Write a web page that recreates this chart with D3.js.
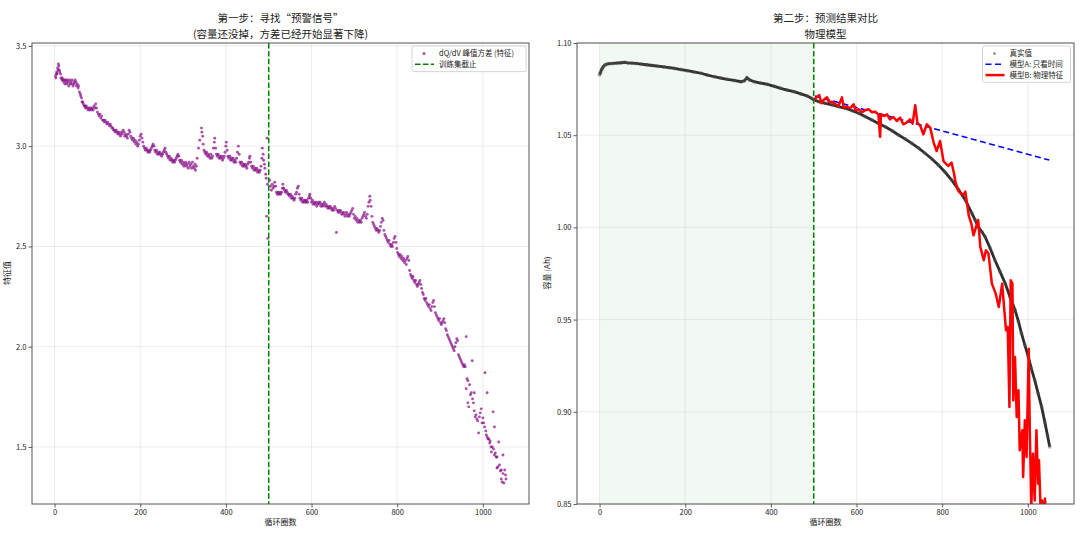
<!DOCTYPE html>
<html>
<head>
<meta charset="utf-8">
<script src="https://cdn.jsdelivr.net/npm/d3@7"></script>
<style>
  body { margin: 0; background: #fff; }
  svg { display: block; font-family: 'Noto Sans CJK SC', 'Noto Sans', sans-serif; }
</style>
</head>
<body>
<div id="chart"></div>
<script>
// --- data ---
var cutoffCycle = 500;
var xTicks = [0, 200, 400, 600, 800, 1000];
var featureTicks = [1.5, 2.0, 2.5, 3.0, 3.5];
var capacityTicks = [0.85, 0.90, 0.95, 1.00, 1.05, 1.10];

// [cycle, dQ/dV peak variance]
var featurePoints = [
  [2,3.35],[3,3.34],[4,3.36],[5,3.37],[6,3.36],[7,3.39],[8,3.38],[9,3.41],[10,3.40],[11,3.38],[12,3.37],[14,3.36],
  [15,3.34],[17,3.33],[18,3.34],[20,3.33],[21,3.32],[23,3.33],[24,3.31],[26,3.33],[27,3.32],[29,3.31],[30,3.33],
  [32,3.32],[33,3.30],[35,3.33],[36,3.31],[38,3.32],[40,3.31],[41,3.33],[43,3.30],[45,3.32],[46,3.31],[48,3.33],
  [50,3.32],[51,3.30],[53,3.31],[55,3.29],[56,3.30],[58,3.27],
  [60,3.26],[61,3.25],[63,3.24],[64,3.22],[66,3.22],[67,3.21],[69,3.20],[71,3.20],[72,3.19],[74,3.20],[76,3.19],
  [78,3.18],[80,3.19],[82,3.18],[84,3.19],[86,3.18],[88,3.19],[90,3.18],[92,3.20],[94,3.19],[96,3.21],[98,3.19],[100,3.17],
  [102,3.16],[104,3.15],[106,3.16],[108,3.14],[110,3.15],[112,3.13],[114,3.13],[116,3.12],[118,3.13],[120,3.12],
  [122,3.11],[124,3.12],[126,3.11],[128,3.10],[130,3.11],[132,3.10],[134,3.09],
  [136,3.09],[138,3.08],[140,3.08],[142,3.07],[144,3.08],[146,3.07],[148,3.06],[150,3.07],[152,3.06],[154,3.05],
  [156,3.07],[158,3.06],[160,3.08],[162,3.07],[164,3.05],[166,3.06],[168,3.05],[170,3.04],[172,3.06],[174,3.08],
  [176,3.07],[178,3.05],
  [180,3.04],[182,3.03],[184,3.04],[186,3.02],[188,3.03],[190,3.01],[192,3.02],[194,3.00],[196,3.01],[198,3.03],
  [200,3.05],[202,3.06],[204,3.04],[206,3.02],
  [208,3.00],[210,2.99],[212,2.98],[214,2.99],[216,2.98],[218,2.97],[220,2.98],[222,2.97],[224,2.98],[226,2.99],
  [228,3.00],[230,3.01],[232,3.00],[234,2.98],
  [236,2.97],[238,2.98],[240,2.96],[242,2.97],[244,2.96],[246,2.97],[248,2.96],[250,2.95],[252,2.96],[254,2.97],
  [256,2.98],[258,2.99],[260,2.97],[262,2.96],[264,2.95],[266,2.94],[268,2.95],[270,2.93],[272,2.94],[274,2.93],
  [276,2.92],[278,2.93],[280,2.92],[282,2.93],[284,2.94],[286,2.95],[288,2.96],[290,2.95],[292,2.93],[294,2.92],
  [296,2.93],[298,2.91],[300,2.92],
  [302,2.90],[304,2.91],[306,2.92],[308,2.90],[310,2.91],[312,2.89],[314,2.92],[316,2.90],[318,2.91],[320,2.89],
  [322,2.92],[324,2.90],[326,2.89],[328,2.91],[329,2.88],[331,2.90],
  [333,2.94],[336,2.99],[339,3.03],[343,3.09],[344,3.07],[346,3.05],[347,3.01],[349,2.98],[351,2.97],[353,2.96],
  [355,2.97],[357,2.95],[359,2.96],[361,2.95],[363,2.94],[365,2.96],[367,2.94],[369,2.95],
  [371,2.99],[373,3.02],[374,3.04],[376,2.99],[378,2.96],[380,2.95],[382,2.96],[384,2.94],[386,2.95],[388,2.94],
  [390,2.95],[392,2.93],[394,2.94],[396,2.95],[398,2.97],[400,3.00],[401,3.02],
  [403,2.98],[405,2.95],[407,2.94],[409,2.95],[411,2.93],[413,2.94],[415,2.93],[417,2.94],[419,2.92],[421,2.93],
  [423,2.92],[425,2.94],[427,2.97],[429,3.00],
  [431,2.96],[433,2.92],[435,2.91],[437,2.92],[439,2.90],[441,2.91],[443,2.90],[445,2.91],[447,2.90],[449,2.89],
  [451,2.91],[453,2.92],[455,2.94],[456,2.95],
  [458,2.92],[460,2.90],[462,2.89],[464,2.90],[466,2.88],[468,2.89],[470,2.88],[472,2.89],[474,2.87],[476,2.88],
  [478,2.87],[480,2.88],[482,2.90],[484,2.94],[485,2.99],[487,2.96],[488,2.93],[490,2.91],[491,2.89],[493,2.86],
  [494,2.84],[495,2.65],[496,3.04],[497,2.81],[498,2.54],
  [502,2.83],[504,2.80],[506,2.78],[508,2.81],[510,2.79],[512,2.80],[514,2.82],[516,2.80],[518,2.77],[520,2.76],
  [522,2.77],[524,2.76],[526,2.77],[528,2.76],[530,2.77],[532,2.79],[533,2.81],[535,2.79],[537,2.78],[539,2.77],
  [541,2.78],[543,2.77],
  [545,2.76],[547,2.76],[549,2.75],[551,2.76],[553,2.74],[555,2.75],[557,2.74],[559,2.73],[561,2.74],[563,2.76],
  [565,2.77],[567,2.79],[569,2.80],[571,2.76],[573,2.74],[575,2.73],[577,2.74],[579,2.72],[581,2.73],[583,2.72],
  [585,2.73],[587,2.72],[589,2.73],[591,2.72],[593,2.74],[595,2.75],[596,2.76],[598,2.74],
  [600,2.72],[602,2.73],[604,2.71],[606,2.72],[608,2.71],[610,2.72],[612,2.70],[614,2.71],[616,2.72],[618,2.71],
  [620,2.72],[622,2.70],[624,2.71],[626,2.70],[628,2.71],[630,2.72],[632,2.70],[634,2.71],[636,2.70],[638,2.69],
  [640,2.70],[642,2.69],[644,2.70],[646,2.69],[648,2.68],[650,2.69],[652,2.68],[654,2.70],[656,2.69],[658,2.57],
  [660,2.68],[662,2.67],[664,2.68],
  [666,2.67],[668,2.68],[670,2.66],[672,2.67],[674,2.66],[676,2.67],[678,2.65],[680,2.66],[682,2.67],[684,2.65],
  [686,2.66],[688,2.65],[690,2.66],[692,2.67],[694,2.68],[696,2.69],[698,2.66],
  [700,2.64],[702,2.65],[704,2.63],[706,2.64],[708,2.62],[710,2.63],[712,2.62],[714,2.63],[716,2.62],[718,2.64],
  [720,2.65],[722,2.66],[724,2.67],[726,2.65],[728,2.64],[730,2.66],[732,2.70],[734,2.72],[736,2.75],[737,2.73],
  [739,2.70],[741,2.65],[743,2.62],[745,2.61],[747,2.60],[749,2.59],[751,2.58],[753,2.59],[755,2.58],[757,2.57],
  [759,2.58],[761,2.60],[763,2.62],[765,2.64],[767,2.63],
  [769,2.58],[771,2.56],[773,2.55],[775,2.54],[777,2.53],[779,2.52],[781,2.53],[783,2.51],[785,2.50],[787,2.51],
  [789,2.50],[791,2.52],[793,2.54],[795,2.55],[797,2.52],
  [799,2.49],[801,2.47],[803,2.46],[805,2.45],[807,2.46],[809,2.44],[811,2.45],[813,2.43],[815,2.44],[817,2.42],
  [819,2.43],[821,2.41],[823,2.44],[825,2.45],[827,2.43],
  [829,2.38],[831,2.36],[833,2.35],[835,2.34],[837,2.35],[839,2.33],[841,2.32],[843,2.33],[845,2.31],[847,2.30],
  [849,2.31],[851,2.32],[853,2.33],[855,2.31],[857,2.29],
  [859,2.27],[861,2.26],[863,2.24],[865,2.23],[867,2.24],[869,2.22],[871,2.21],[873,2.20],[875,2.21],[877,2.19],
  [879,2.18],[881,2.20],[883,2.22],[885,2.23],[887,2.20],
  [889,2.17],[891,2.16],[893,2.15],[895,2.14],[897,2.13],[899,2.14],[901,2.12],[903,2.11],[905,2.12],[907,2.13],
  [909,2.14],[911,2.12],
  [913,2.09],[915,2.08],[917,2.06],[919,2.05],[921,2.04],[923,2.03],[925,2.02],[927,2.01],[929,2.00],[931,1.99],
  [933,1.98],[935,2.00],[937,2.02],[939,2.04],[941,2.03],[943,1.96],
  [945,1.95],[947,1.94],[949,1.93],[951,1.92],[953,1.91],[955,1.90],[957,1.91],[959,1.90],[961,2.05],[961,1.79],
  [963,1.84],[965,1.83],[965,1.72],[967,1.70],[969,1.81],[971,1.76],[973,1.77],[975,1.93],[976,1.74],[978,1.72],
  [980,1.68],[980,1.77],[982,1.65],[984,1.66],[986,1.64],[988,1.63],[990,1.57],[992,1.65],[994,1.67],[996,1.69],
  [998,1.62],[1000,1.645],[1002,1.62],[1004,1.60],[1005,1.87],[1007,1.58],[1008,1.56],[1010,1.77],[1010,1.55],
  [1012,1.54],[1014,1.54],[1016,1.52],[1017,1.53],[1019,1.50],[1020,1.475],[1022,1.50],[1024,1.675],[1025,1.49],
  [1027,1.46],[1027,1.60],[1029,1.47],[1031,1.45],[1033,1.45],[1033,1.395],[1035,1.40],[1037,1.525],[1039,1.41],
  [1041,1.38],[1043,1.385],[1043,1.34],[1045,1.325],[1047,1.46],[1047,1.367],[1049,1.32],[1051,1.385],[1053,1.36],
  [1054,1.34]
];

// [cycle, capacity Ah] measured
var truePoints = [
  [0,1.0828],[2,1.0840],[5,1.0858],[8,1.0870],[12,1.0880],[16,1.0885],[22,1.0888],[30,1.0889],[40,1.0891],
  [50,1.0893],[58,1.0895],[66,1.0892],[75,1.0891],[85,1.0889],[97,1.0886],[110,1.0882],[123,1.0878],[136,1.0874],
  [150,1.0870],[163,1.0866],[175,1.0862],[190,1.0856],[205,1.0850],[220,1.0843],[237,1.0836],[252,1.0826],
  [268,1.0817],[283,1.0810],[298,1.0803],[314,1.0797],[330,1.0790],[338,1.0795],[344,1.0812],[350,1.0800],
  [361,1.0790],[376,1.0783],[392,1.0776],[408,1.0765],[423,1.0754],[438,1.0745],[454,1.0736],[470,1.0724],
  [485,1.0713],[495,1.0700],[500,1.0692],
  [512,1.0682],[527,1.0673],[543,1.0664],[558,1.0655],[574,1.0646],[590,1.0633],[605,1.0619],[620,1.0601],
  [636,1.0582],[651,1.0564],[667,1.0546],[683,1.0524],[698,1.0501],[714,1.0479],[729,1.0456],[745,1.0430],
  [760,1.0402],[776,1.0371],[791,1.0338],[807,1.0299],[822,1.0257],[838,1.0205],[854,1.0149],[869,1.0078],
  [877,1.0040],[885,1.0000],[893,0.9975],[900,0.9950],[912,0.9887],[923,0.9823],[935,0.9760],[947,0.9697],
  [958,0.9625],[970,0.9552],[978,0.9490],[985,0.9426],[993,0.9362],[1001,0.9299],[1008,0.9236],[1016,0.9172],
  [1024,0.9100],[1032,0.9028],[1040,0.8940],[1046,0.8870],[1051,0.8811]
];

// model A: time only (straight trend)
var modelAPoints = [[503,1.0712],[1050,1.0365]];

// model B: physics feature
var modelBPoints = [
  [500,1.0692],[504,1.0700],[508,1.0709],[513,1.0718],[518,1.0673],[523,1.0691],[531,1.0706],[536,1.0677],
  [543,1.0682],[550,1.0668],[558,1.0659],[566,1.0705],[570,1.0650],[577,1.0655],[585,1.0646],[593,1.0668],
  [598,1.0635],[605,1.0641],[612,1.0624],[620,1.0635],[628,1.0641],[636,1.0624],[643,1.0628],[651,1.0613],
  [655,1.0491],[657,1.0613],[665,1.0604],[671,1.0613],[678,1.0586],[686,1.0599],[694,1.0577],[702,1.0595],
  [709,1.0559],[717,1.0568],[725,1.0586],[731,1.0563],[737,1.0663],[742,1.0568],[749,1.0550],[756,1.0505],
  [764,1.0559],[772,1.0541],[780,1.0460],[787,1.0414],[795,1.0469],[803,1.0360],[814,1.0333],[822,1.0351],
  [828,1.0288],[831,1.0245],[838,1.0197],[843,1.0185],[850,1.0178],[854,1.0194],[862,1.0064],[868,1.0021],
  [873,0.9957],[879,1.0003],[884,1.0040],[889,0.9894],[897,0.9822],[902,0.9876],[908,0.9858],[916,0.9695],
  [925,0.9641],[932,0.9568],[940,0.9695],[949,0.9442],[953,0.9460],[957,0.9026],[960,0.9713],[964,0.9695],
  [966,0.9062],[970,0.9297],[974,0.8972],[978,0.9117],[981,0.8791],[987,0.8900],[989,0.8646],[993,0.8954],
  [997,0.8755],[1002,0.9342],[1004,0.8972],[1008,0.8480],[1012,0.8773],[1016,0.8519],[1020,0.8900],
  [1024,0.8610],[1026,0.8737],[1030,0.8450],[1033,0.8519],[1036,0.8420],[1040,0.8530],[1042,0.8450]
];

(function() {

  'use strict'

  var width = 1080,
      height = 534,
      fontFamily = '\'Noto Sans CJK SC\', \'Noto Sans\', sans-serif',
      tickFont = '7.5px',
      textColor = '#222';

  var svg = d3.select('#chart').append('svg')
    .attr('width', width)
    .attr('height', height);

  // one matplotlib-like axes box
  function makePanel(left, yDomain, yTicks, yFormat, id) {
    var p = { left: left, top: 43, w: 497, h: 461 };
    p.x = d3.scaleLinear().domain([-52.75, 1107.75]).range([0, p.w]);
    p.y = d3.scaleLinear().domain(yDomain).range([p.h, 0]);
    p.g = svg.append('g').attr('transform', 'translate(' + p.left + ',' + p.top + ')');

    svg.append('clipPath').attr('id', id)
      .append('rect').attr('width', p.w).attr('height', p.h);

    p.back = p.g.append('g');
    var grid = p.g.append('g')
      .attr('stroke', '#b0b0b0')
      .attr('stroke-opacity', 0.3)
      .attr('stroke-width', 0.8);
    grid.selectAll('.vx').data(xTicks).enter().append('line')
      .attr('x1', p.x).attr('x2', p.x).attr('y1', 0).attr('y2', p.h);
    grid.selectAll('.hy').data(yTicks).enter().append('line')
      .attr('y1', p.y).attr('y2', p.y).attr('x1', 0).attr('x2', p.w);

    p.plot = p.g.append('g').attr('clip-path', 'url(#' + id + ')');

    var xAxis = p.g.append('g')
      .attr('transform', 'translate(0,' + p.h + ')')
      .call(d3.axisBottom(p.x).tickValues(xTicks).tickFormat(d3.format('d')).tickSize(3.5).tickPadding(2.5));
    var yAxis = p.g.append('g')
      .call(d3.axisLeft(p.y).tickValues(yTicks).tickFormat(d3.format(yFormat)).tickSize(3.5).tickPadding(2));

    [xAxis, yAxis].forEach(function(a) {
      a.select('.domain').remove();
      a.selectAll('line').attr('stroke', '#333').attr('stroke-width', 0.8);
      a.selectAll('text')
        .attr('font-size', tickFont)
        .attr('font-family', fontFamily)
        .attr('fill', textColor);
    });

    p.frame = function() {
      p.g.append('rect')
        .attr('width', p.w)
        .attr('height', p.h)
        .attr('fill', 'none')
        .attr('stroke', '#555')
        .attr('stroke-width', 1);
    };
    return p;
  }

  function addText(x, y, str, size, anchor, rotate) {
    var t = svg.append('text')
      .attr('x', x)
      .attr('y', y)
      .attr('font-size', size)
      .attr('font-family', fontFamily)
      .attr('fill', textColor)
      .attr('text-anchor', anchor || 'middle')
      .text(str);
    if (rotate) t.attr('transform', 'rotate(' + rotate + ',' + x + ',' + y + ')');
    return t;
  }

  // two-line title
  function addTitle(x, lines) {
    lines.forEach(function(s, i) {
      addText(x, 22.3 + i * 15.4, s, '10.5px');
    });
  }

  function addLegend(x, y, w, items) {
    var rowH = 10.8;
    var lg = svg.append('g').attr('transform', 'translate(' + x + ',' + y + ')');
    lg.append('rect')
      .attr('width', w)
      .attr('height', items.length * rowH + 4)
      .attr('rx', 2)
      .attr('fill', '#fff')
      .attr('fill-opacity', 0.8)
      .attr('stroke', '#ccc')
      .attr('stroke-width', 0.8);
    items.forEach(function(it, i) {
      var cy = 7.5 + i * rowH;
      if (it.type === 'dot') {
        lg.append('circle')
          .attr('cx', 12).attr('cy', cy).attr('r', 1.5)
          .attr('fill', it.color).attr('fill-opacity', it.opacity);
      } else {
        lg.append('line')
          .attr('x1', 3).attr('x2', 22).attr('y1', cy).attr('y2', cy)
          .attr('stroke', it.color)
          .attr('stroke-width', it.width)
          .attr('stroke-dasharray', it.dash || null);
      }
      lg.append('text')
        .attr('x', 27).attr('y', cy + 2.7)
        .attr('font-size', tickFont)
        .attr('font-family', fontFamily)
        .attr('fill', textColor)
        .text(it.label);
    });
  }

  var line = function(p) {
    return d3.line().x(function(d) { return p.x(d[0]); }).y(function(d) { return p.y(d[1]); });
  };

  // ---------- left: feature ----------
  var left = makePanel(32, [1.2155, 3.5145], featureTicks, '.1f', 'clipLeft');

  left.plot.selectAll('circle').data(featurePoints).enter().append('circle')
    .attr('cx', function(d) { return left.x(d[0]); })
    .attr('cy', function(d) { return left.y(d[1]); })
    .attr('r', 1.45)
    .attr('fill', 'purple')
    .attr('fill-opacity', 0.68);

  left.plot.append('line')
    .attr('x1', left.x(cutoffCycle)).attr('x2', left.x(cutoffCycle))
    .attr('y1', 0).attr('y2', left.h)
    .attr('stroke', 'green').attr('stroke-width', 1.5)
    .attr('stroke-dasharray', '5.5,2.4');
  left.frame();

  addTitle(280.5, ['第一步：寻找“预警信号”', '(容量还没掉，方差已经开始显著下降)']);
  addText(280.5, 525, '循环圈数', '8px');
  addText(10, 273, '特征值', '8px', 'middle', -90);

  addLegend(412, 46, 114, [
    { type: 'dot', color: 'purple', opacity: 0.68, label: 'dQ/dV 峰值方差 (特征)' },
    { type: 'line', color: 'green', width: 1.5, dash: '5.5,2.4', label: '训练集截止' }
  ]);

  // ---------- right: capacity ----------
  var right = makePanel(577, [0.85, 1.10], capacityTicks, '.2f', 'clipRight');

  right.back.append('rect')
    .attr('x', right.x(0))
    .attr('width', right.x(cutoffCycle) - right.x(0))
    .attr('height', right.h)
    .attr('fill', 'green')
    .attr('fill-opacity', 0.05);

  right.plot.append('path')
    .datum(truePoints)
    .attr('d', line(right))
    .attr('fill', 'none')
    .attr('stroke', '#111')
    .attr('stroke-width', 2.8)
    .attr('stroke-opacity', 0.88);
  right.plot.selectAll('circle').data(truePoints).enter().append('circle')
    .attr('cx', function(d) { return right.x(d[0]); })
    .attr('cy', function(d) { return right.y(d[1]); })
    .attr('r', 2)
    .attr('fill', '#555')
    .attr('fill-opacity', 0.45);

  right.plot.append('path')
    .datum(modelAPoints)
    .attr('d', line(right))
    .attr('fill', 'none')
    .attr('stroke', 'blue')
    .attr('stroke-width', 1.6)
    .attr('stroke-dasharray', '6,3.5');

  right.plot.append('path')
    .datum(modelBPoints)
    .attr('d', line(right))
    .attr('fill', 'none')
    .attr('stroke', 'red')
    .attr('stroke-width', 2.5)
    .attr('stroke-linejoin', 'round');

  right.plot.append('line')
    .attr('x1', right.x(cutoffCycle)).attr('x2', right.x(cutoffCycle))
    .attr('y1', 0).attr('y2', right.h)
    .attr('stroke', 'green').attr('stroke-width', 1.5)
    .attr('stroke-dasharray', '5.5,2.4');
  right.frame();

  addTitle(825.5, ['第二步：预测结果对比', '物理模型']);
  addText(825.5, 525, '循环圈数', '8px');
  addText(550, 273, '容量 (Ah)', '8px', 'middle', -90);

  addLegend(982.5, 46, 88, [
    { type: 'dot', color: '#555', opacity: 0.6, label: '真实值' },
    { type: 'line', color: 'blue', width: 1.6, dash: '6,3.5', label: '模型A: 只看时间' },
    { type: 'line', color: 'red', width: 2.5, label: '模型B: 物理特征' }
  ]);

})();
</script>
</body>
</html>
